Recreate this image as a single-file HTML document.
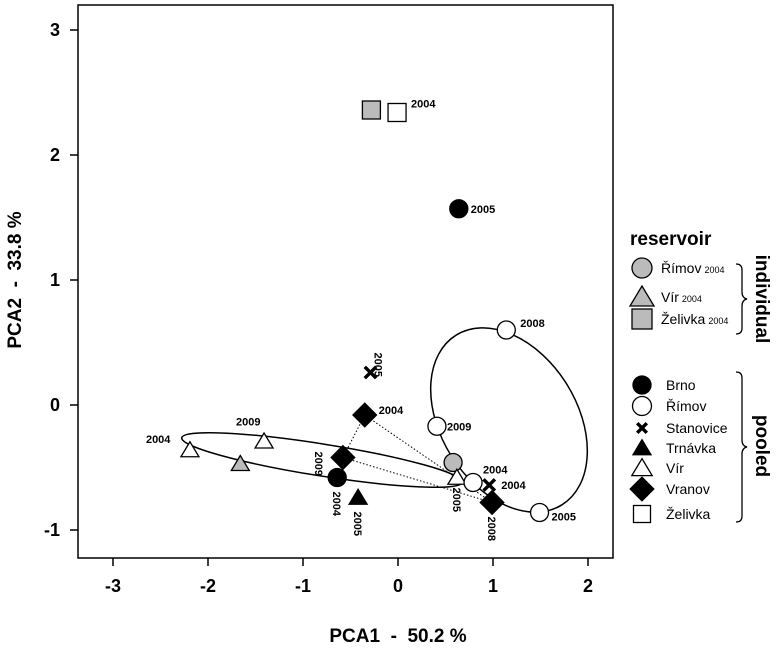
<!DOCTYPE html>
<html><head><meta charset="utf-8"><style>
body{margin:0;background:#fff;}
svg{display:block;font-family:"Liberation Sans",sans-serif;}
text{white-space:pre;}
</style></head><body>
<svg id="c" width="778" height="648">
<rect x="78" y="5" width="535" height="553" fill="none" stroke="#000" stroke-width="1.5"/>
<g id="ax"></g><g id="marks"></g>
<text x="398" y="642" font-size="19" font-weight="bold" text-anchor="middle" xml:space="preserve">PCA1  -  50.2 %</text>
<text transform="translate(21,280) rotate(-90)" font-size="19" font-weight="bold" text-anchor="middle" xml:space="preserve">PCA2  -  33.8 %</text>
<text x="630" y="245" font-size="19" font-weight="bold">reservoir</text>
<g id="leg"></g>
</svg>
<script>
const xTicks=[-3,-2,-1,0,1,2];
const yTicks=[-1,0,1,2,3];
const pointNames=["zel-g","zel-o","brno05","rim08","stan05","vra04","vra09","vir09","vir04","virg","brno04","trn05","rimg","rim09","vir05","rim04","stan04","vra08","rim05"];
const pointShapes=["sq","sq","ci","ci","x","di","di","tr","tr","tr","ci","tr","ci","ci","tr","ci","x","di","ci"];
const pointFills=["#bbb","#fff","#000","#fff","#000","#000","#000","#fff","#fff","#bbb","#000","#000","#bbb","#fff","#fff","#fff","#000","#000","#fff"];
const pcaX=[-0.28,-0.01,0.64,1.14,-0.29,-0.35,-0.58,-1.41,-2.19,-1.66,-0.64,-0.42,0.58,0.41,0.62,0.79,0.96,0.99,1.49];
const pcaY=[2.36,2.34,1.57,0.6,0.26,-0.08,-0.42,-0.29,-0.36,-0.47,-0.58,-0.74,-0.46,-0.17,-0.58,-0.62,-0.64,-0.78,-0.86];
const yearLabels=["","2004","2005","2008","2005","2004","2009","2009","2004","","2004","2005","","2009","2005","2004","2004","2008","2005"];
const X=v=>398+v*95, Y=v=>405-v*125;
const NS="http://www.w3.org/2000/svg";
function mk(p,t,a){const e=document.createElementNS(NS,t);for(const k in a)e.setAttribute(k,a[k]);p.appendChild(e);return e;}
const ax=document.getElementById('ax');
xTicks.forEach(t=>{const l=mk(ax,'line',{x1:X(t),x2:X(t),y1:558,y2:566,stroke:'#000','stroke-width':1.5});


const tx=mk(ax,'text',{x:X(t),y:592,'font-size':18,'font-weight':'bold','text-anchor':'middle'});tx.textContent=t;

});
yTicks.forEach(t=>{const l=mk(ax,'line',{x1:70,x2:78,y1:Y(t),y2:Y(t),stroke:'#000','stroke-width':1.5});


const tx=mk(ax,'text',{x:60,y:Y(t)+6,'font-size':18,'font-weight':'bold','text-anchor':'end'});tx.textContent=t;

});
const g=document.getElementById('marks');
const e1=mk(g,'ellipse',{cx:322,cy:460,rx:142,ry:16,transform:'rotate(9 322 460)',fill:'none',stroke:'#000','stroke-width':1.5});


const e2=mk(g,'ellipse',{cx:509,cy:420,rx:100,ry:68,transform:'rotate(58 509 420)',fill:'none',stroke:'#000','stroke-width':1.5});


[[5,17],[6,17],[5,6]].forEach(([a,b])=>{const l=mk(g,'line',{x1:X(pcaX[a]),y1:Y(pcaY[a]),x2:X(pcaX[b]),y2:Y(pcaY[b]),stroke:'#000','stroke-dasharray':'1.5 2','stroke-width':1});

});
function shape(p,s,f,cx,cy,sz){
 let e;
 if(s=='ci')e=mk(p,'circle',{cx,cy,r:sz*0.5,fill:f,stroke:'#000','stroke-width':1.3});
 else if(s=='sq')e=mk(p,'rect',{x:cx-sz*0.5,y:cy-sz*0.5,width:sz,height:sz,fill:f,stroke:'#000','stroke-width':1.3});
 else if(s=='tr')e=mk(p,'polygon',{points:`${cx},${cy-sz*0.55} ${cx-sz*0.6},${cy+sz*0.45} ${cx+sz*0.6},${cy+sz*0.45}`,fill:f,stroke:'#000','stroke-width':1.3});
 else if(s=='di')e=mk(p,'polygon',{points:`${cx},${cy-sz*0.62} ${cx+sz*0.62},${cy} ${cx},${cy+sz*0.62} ${cx-sz*0.62},${cy}`,fill:f,stroke:'#000','stroke-width':1.3});
 else {const d=sz*0.3;e=mk(p,'path',{d:`M${cx-d},${cy-d}L${cx+d},${cy+d}M${cx+d},${cy-d}L${cx-d},${cy+d}`,stroke:'#000','stroke-width':3.5});}
 return e;}
const labelOff={"zel-o":[14,-5,0],"brno05":[12,4,0],"rim08":[14,-3,0],"stan05":[4,-20,90],"vra04":[14,-1,0],"vra09":[-28,-6,90],"vir09":[-28,-16,0],"vir04":[-44,-7,0],"brno04":[-4,14,90],"trn05":[-4,14,90],"rim09":[10,4,0],"vir05":[-4,10,90],"rim04":[10,-9,0],"stan04":[12,4,0],"vra08":[-4,14,90],"rim05":[12,8,0]};
pointNames.forEach((n,i)=>{const cx=X(pcaX[i]),cy=Y(pcaY[i]);
 const sz=pointShapes[i]=='ci'?18:(pointShapes[i]=='sq'?18:(pointShapes[i]=='tr'?15:19));
 const e=shape(g,pointShapes[i],pointFills[i],cx,cy,sz);
 
 
 if(yearLabels[i]){const o=labelOff[n]||[10,4,0];
  const t=mk(g,'text',{'font-size':11,'font-weight':'bold',transform:`translate(${cx+o[0]},${cy+o[1]}) rotate(${o[2]})`});
  t.textContent=yearLabels[i];
  
  }
});
const L=document.getElementById('leg');
const legShapes=["ci","tr","sq","ci","ci","x","tr","tr","di","sq"];
const legFills=["#bbb","#bbb","#bbb","#000","#fff","#000","#000","#fff","#000","#fff"];
const legText=["Římov","Vír","Želivka","Brno","Římov","Stanovice","Trnávka","Vír","Vranov","Želivka"];
const legY=[268,297,319,385,406,428,448,468,489,514];
const legSz=[20,20,20,18,19,16,15,17,19,17];
legText.forEach((s,i)=>{const e=shape(L,legShapes[i],legFills[i],642,legY[i],legSz[i]);
 
 
 const t=mk(L,'text',{x:i<3?661:666,y:legY[i]+5,'font-size':14});
 t.textContent=s;
 if(i<3){const ts=mk(t,'tspan',{'font-size':9,dx:3});ts.textContent='2004';}
 
 });
const b1=mk(L,'path',{d:'M736,264 q6,0 6,6 v22 q0,6 5,7 q-5,1 -5,7 v22 q0,6 -6,6',fill:'none',stroke:'#000','stroke-width':1.3});

const b2=mk(L,'path',{d:'M736,372 q6,0 6,6 v62 q0,6 5,7 q-5,1 -5,7 v62 q0,6 -6,6',fill:'none',stroke:'#000','stroke-width':1.3}); 

const t1=mk(L,'text',{transform:'translate(756,299) rotate(90)','font-size':19,'font-weight':'bold','text-anchor':'middle'});t1.textContent='individual';

const t2=mk(L,'text',{transform:'translate(756,446) rotate(90)','font-size':19,'font-weight':'bold','text-anchor':'middle'});t2.textContent='pooled';

</script>
</body></html>
